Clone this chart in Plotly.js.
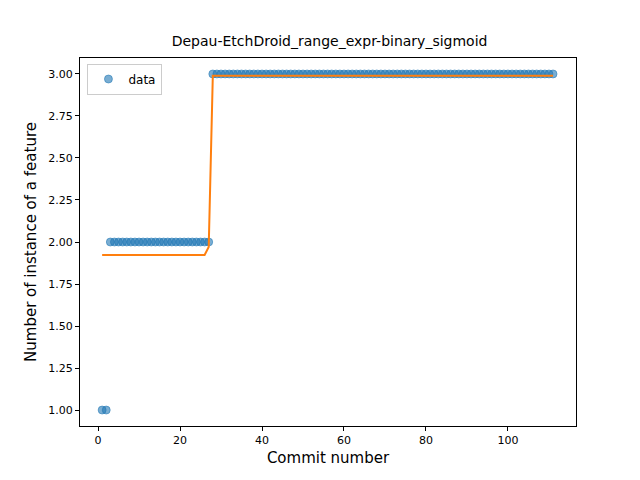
<!DOCTYPE html>
<html>
<head>
<script src="https://cdn.plot.ly/plotly-3.0.1.min.js"></script>
<style>body{margin:0;} #chart{width:640px;height:480px;}</style>
</head>
<body>
<div id="chart"></div>
<script>
// commit numbers 1..111
var commits = [];
for (var i = 1; i <= 111; i++) commits.push(i);
var counts = [1,1,
  2,2,2,2,2,2,2,2,2,2,2,2,2,2,2,2,2,2,2,2,2,2,2,2,2,
  3,3,3,3,3,3,3,3,3,3,3,3,3,3,3,3,3,3,3,3,3,3,3,3,3,3,3,3,3,3,
  3,3,3,3,3,3,3,3,3,3,3,3,3,3,3,3,3,3,3,3,3,3,3,3,3,3,3,3,3,3,
  3,3,3,3,3,3,3,3,3,3,3,3,3,3,3,3,3,3,3,3,3,3,3,3,3,3,3,3,3,3,
  3,3,3,3,3,3,3,3,3,3,3,3,3,3,3,3,3,3,3,3,3,3,3,3];
counts = counts.slice(0, 111);
var fitX = [1, 26, 27, 28, 111];
var fitY = [1.923, 1.923, 1.97, 2.99, 2.99];

var font = {family: 'DejaVu Sans', size: 12, color: '#000'};
var data = [
  {x: commits, y: counts, mode: 'markers', type: 'scatter', name: 'data',
   marker: {color: 'rgba(31,119,180,0.6)', size: 8, line: {color: 'rgba(31,119,180,0.9)', width: 0.6}}},
  {x: fitX, y: fitY, mode: 'lines', type: 'scatter', showlegend: false,
   line: {color: '#ff7f0e', width: 2}}
];
var axisStyle = {showgrid: false, zeroline: false, showline: true, mirror: true,
  linecolor: '#000', linewidth: 1, ticks: 'outside', ticklen: 4, tickcolor: '#000',
  tickfont: {family: 'DejaVu Sans', size: 11}};
var layout = {
  width: 640, height: 480,
  margin: {l: 80, r: 64, t: 58, b: 54},
  paper_bgcolor: '#fff', plot_bgcolor: '#fff',
  font: font,
  title: {text: 'Depau-EtchDroid_range_expr-binary_sigmoid', x: 0.515, y: 0.925,
    font: {family: 'DejaVu Sans', size: 14}},
  xaxis: Object.assign({}, axisStyle, {range: [-4.4, 116.6], tickvals: [0,20,40,60,80,100],
    title: {text: 'Commit number', font: {family: 'DejaVu Sans', size: 15}, standoff: 6}}),
  yaxis: Object.assign({}, axisStyle, {range: [0.905, 3.095],
    tickvals: [1,1.25,1.5,1.75,2,2.25,2.5,2.75,3],
    ticktext: ['1.00','1.25','1.50','1.75','2.00','2.25','2.50','2.75','3.00'],
    title: {text: 'Number of instance of a feature', font: {family: 'DejaVu Sans', size: 15}, standoff: 8}}),
  legend: {x: 0.015, y: 0.985, xanchor: 'left', yanchor: 'top', bgcolor: '#fff',
    bordercolor: '#ccc', borderwidth: 1, font: {family: 'DejaVu Sans', size: 12}}
};
Plotly.newPlot('chart', data, layout, {displayModeBar: false});
</script>
</body>
</html>
